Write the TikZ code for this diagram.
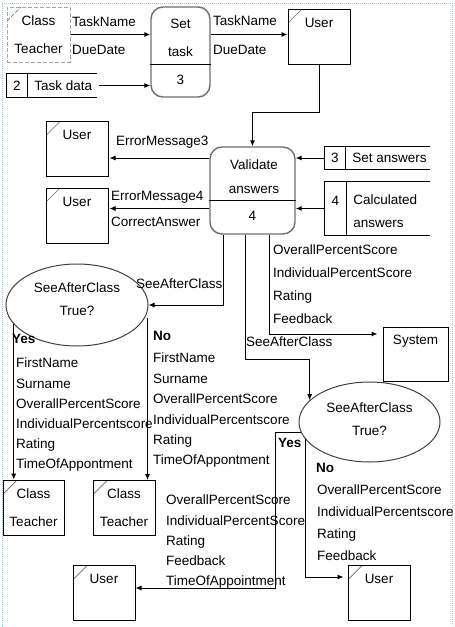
\documentclass[tikz,border=0pt]{standalone}
\usepackage{fontspec}
\setmainfont{Liberation Sans}
\usetikzlibrary{arrows.meta, positioning, calc, shapes.geometric}
\definecolor{frameblue}{HTML}{8CCBEA}
\definecolor{boxgray}{HTML}{6E6E6E}

\begin{document}
\begin{tikzpicture}[x=1pt, y=-1pt,
  entity/.style={rectangle, draw, line width=1pt, minimum width=62pt, minimum height=55pt, inner sep=0pt, align=center, font=\fontsize{13.5}{28}\selectfont,
    path picture={\draw[line width=0.7pt, black!60] ([yshift=-14pt]path picture bounding box.north west) -- ([xshift=14pt]path picture bounding box.north west);}},
  plainbox/.style={rectangle, draw, line width=1pt, minimum width=65pt, minimum height=54pt, inner sep=0pt, align=center, font=\fontsize{13.5}{28}\selectfont},
  process/.style={rectangle, draw=boxgray, line width=1.4pt, rounded corners=12pt, inner sep=0pt},
  ptext/.style={inner sep=0pt, align=center, font=\fontsize{13.5}{28}\selectfont},
  storeid/.style={inner sep=0pt, minimum width=20pt, align=center, font=\fontsize{13.5}{23}\selectfont},
  storetxt/.style={inner xsep=7pt, inner ysep=0pt, align=left, font=\fontsize{13.5}{23}\selectfont},
  storeline/.style={line width=1pt},
  decision/.style={ellipse, draw=black!75, line width=1pt, minimum width=142pt, minimum height=82pt, inner sep=0pt, align=center, font=\fontsize{13.5}{23}\selectfont},
  lbl/.style={anchor=west, inner sep=0pt, text height=10pt, text depth=3pt, font=\fontsize{13.5}{16}\selectfont},
  lblyn/.style={lbl, font=\fontsize{13.5}{16}\selectfont\bfseries},
  lbllist/.style={anchor=north west, inner sep=0pt, align=left},
  flow/.style={-{Latex[length=6pt,width=5pt]}, line width=1pt},
  frameline/.style={draw=frameblue, line width=1pt, dash pattern=on 1pt off 1pt}
]
  \useasboundingbox (0,0) rectangle (455,627);
  \draw[frameline] (2,627) -- (2,3) -- (452,3) -- (452,627);

  % external entities
  \node[entity, minimum width=63pt, draw=black!35, dash pattern=on 4pt off 2pt] (ctA) at (38.5,34.5) {Class\\Teacher};
  \node[entity] (userA) at (319,36.5) {User\\~};
  \node[entity] (userB) at (77,149) {User\\~};
  \node[entity] (userC) at (77,215.5) {User\\~};
  \node[plainbox] (system) at (415.5,354) {System\\~};
  \node[entity, minimum width=61pt] (ctB) at (33.5,507.5) {Class\\Teacher};
  \node[entity] (ctC) at (124,508) {Class\\Teacher};
  \node[entity] (userD) at (104,593) {User\\~};
  \node[entity] (userE) at (379,593) {User\\~};

  % processes
  \node[process, minimum width=59pt, minimum height=90pt] (settask) at (180.5,52) {};
  \draw[line width=1pt] ([yshift=-58pt]settask.north west) -- ([yshift=-58pt]settask.north east);
  \node[ptext] (settaskname) at (180.5,38) {Set\\task};
  \node[ptext] (settasknum) at (180.5,80) {3};

  \node[process, minimum width=85pt, minimum height=87pt] (validate) at (252.5,190.5) {};
  \draw[line width=1pt] ([yshift=-54pt]validate.north west) -- ([yshift=-54pt]validate.north east);
  \node[ptext, font=\fontsize{13.5}{24}\selectfont] (validatename) at (254,177) {Validate\\answers};
  \node[ptext] (validatenum) at (252.5,216) {4};

  % decisions
  \node[decision, text depth=12pt] (seeA) at (77,305) {SeeAfterClass\\True?};
  \node[decision, text depth=6pt, minimum width=141pt, minimum height=80pt] (seeB) at (369.5,422) {SeeAfterClass\\True?};

  % data stores
  \node[storeid, minimum height=23pt] (ds2) at (17,85.5) {2};
  \node[storetxt, right=0pt of ds2] (ds2txt) {Task data};
  \draw[storeline] ([xshift=70pt]ds2.north east) -- (ds2.north west) -- (ds2.south west) -- ([xshift=70pt]ds2.south east);
  \draw[storeline] (ds2.north east) -- (ds2.south east);

  \node[storeid, minimum height=22pt] (ds3) at (335,158) {3};
  \node[storetxt, right=0pt of ds3] (ds3txt) {Set answers};
  \draw[storeline] ([xshift=85pt]ds3.north east) -- (ds3.north west) -- (ds3.south west) -- ([xshift=85pt]ds3.south east);
  \draw[storeline] (ds3.north east) -- (ds3.south east);

  \node[storeid, minimum width=21pt, minimum height=53pt, text height=10pt, text depth=17pt] (ds4) at (335.5,208.5) {4};
  \node[storetxt, right=0pt of ds4, yshift=-3pt] (ds4txt) {Calculated\\answers};
  \draw[storeline] ([xshift=84pt]ds4.north east) -- (ds4.north west) -- (ds4.south west) -- ([xshift=84pt]ds4.south east);
  \draw[storeline] (ds4.north east) -- (ds4.south east);

  % flows
  \coordinate (ds2out) at ([xshift=72pt]ds2.east);
  \coordinate (seeAno) at ([xshift=-1pt,yshift=-13pt]seeA.east);
  \draw[flow] (ctA.east) -- (ctA.east -| settask.west);
  \draw[flow] (ds2out) -- (ds2out -| settask.west);
  \draw[flow] (settask.east |- ctA.east) -- (userA.west |- ctA.east);
  \draw[flow] (userA.south) -- ++(0,48) -| (validate.north);
  \draw[flow] (ds3.west) -- (ds3.west -| validate.east);
  \draw[flow] (ds4.west) -- (ds4.west -| validate.east);
  \draw[flow, shorten >=1pt] (validate.west |- ds3.west) -- (ds3.west -| userB.east);
  \draw[flow, shorten >=1pt] (validate.west |- ds4.west) -- (ds4.west -| userC.east);
  \draw[flow] ([xshift=-29.5pt]validate.south) |- (seeA.east);
  \draw[flow, shorten >=5pt] ([xshift=16.5pt]validate.south) |- ([yshift=20pt]system.west);
  \draw[flow] ([xshift=-7.5pt]validate.south) -- ++(0,124.5) -| (seeB.160);
  \draw[flow] (seeA.197) -- (seeA.197 |- ctB.north);
  \draw[flow] (seeAno) -- (seeAno |- ctC.north);
  \draw[flow] (seeB.189) -- ++(-26,0) |- ([yshift=5pt]userD.east);
  \draw[flow, shorten >=4pt] (seeB.195) |- ([yshift=16pt]userE.west);

  % flow labels
  \node[lbl] (lTaskA) at (72,23) {TaskName};
  \node[lbl] (lDueA) at (72,51) {DueDate};
  \node[lbl] (lTaskB) at (213,22) {TaskName};
  \node[lbl] (lDueB) at (213,51) {DueDate};
  \node[lbl] (lErr3) at (116,142) {ErrorMessage3};
  \node[lbl] (lErr4) at (111,197) {ErrorMessage4};
  \node[lbl] (lCorrect) at (111,223) {CorrectAnswer};
  \node[lbl] (lSeeA) at (136,285) {SeeAfterClass};
  \node[lbl] (lSeeB) at (246,343) {SeeAfterClass};
  \node[lblyn] (lYesA) at (12,340) {Yes};
  \node[lblyn] (lNoA) at (153,337) {No};
  \node[lblyn] (lYesB) at (278,444) {Yes};
  \node[lblyn] (lNoB) at (316,469) {No};

  \node[lbllist, font=\fontsize{13.5}{20.2}\selectfont] (listYesA) at (16,358) {FirstName\\Surname\\OverallPercentScore\\IndividualPercentscore\\Rating\\TimeOfAppontment};
  \node[lbllist, font=\fontsize{13.5}{20.4}\selectfont] (listNoA) at (153,353) {FirstName\\Surname\\OverallPercentScore\\IndividualPercentscore\\Rating\\TimeOfAppontment};
  \node[lbllist, font=\fontsize{13.5}{22.7}\selectfont] (listVal) at (273,245) {OverallPercentScore\\IndividualPercentScore\\Rating\\Feedback};
  \node[lbllist, font=\fontsize{13.5}{20.25}\selectfont] (listYesB) at (166,495) {OverallPercentScore\\IndividualPercentScore\\Rating\\Feedback\\TimeOfAppointment};
  \node[lbllist, font=\fontsize{13.5}{22}\selectfont] (listNoB) at (317,485) {OverallPercentScore\\IndividualPercentscore\\Rating\\Feedback};
\end{tikzpicture}
\end{document}
